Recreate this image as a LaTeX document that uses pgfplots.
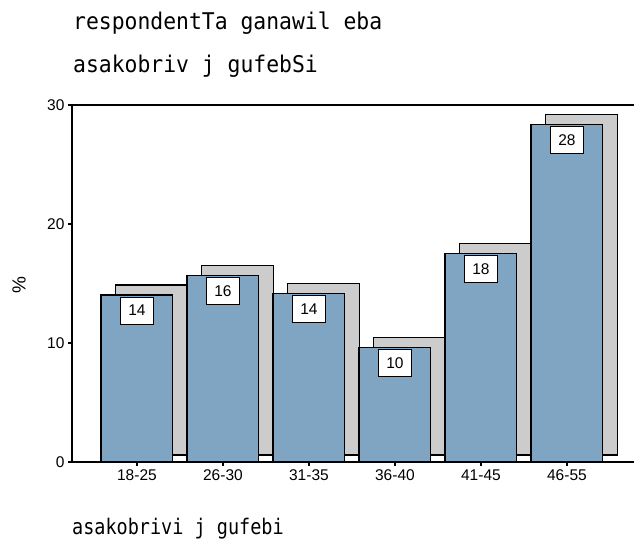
\documentclass[border=0pt]{standalone}
\usepackage{fontspec}
\setmainfont{Liberation Sans}
\newfontfamily\monofont[FakeStretch=0.93]{DejaVu Sans Mono}
\newfontfamily\monofontx[FakeStretch=0.86]{DejaVu Sans Mono}
\usepackage{pgfplots}
\pgfplotsset{compat=1.18}
\definecolor{barblue}{RGB}{127,165,194}
\definecolor{shadowgray}{RGB}{204,204,204}
\begin{document}
\begin{tikzpicture}[x=1pt,y=1pt]
\path[use as bounding box] (0,0) rectangle (634,540);
\pgfplotsset{myaxis/.style={scale only axis, width=562pt, height=357pt,
  at={(72pt,78pt)}, anchor=south west,
  xmin=-0.755, xmax=5.78, ymin=0, ymax=30}}
% shadows
\begin{axis}[myaxis, hide axis, ybar stacked, bar width=0.834]
\addplot[draw=none, fill=none] coordinates {(0.171,0.59) (1.171,0.59) (2.171,0.59) (3.171,0.59) (4.171,0.59) (5.171,0.59)};
\addplot[fill=shadowgray, draw=black, line width=1.2pt] coordinates {(0.171,14.28) (1.171,15.91) (2.171,14.43) (3.171,9.89) (4.171,17.79) (5.171,28.63)};
\end{axis}
% main bars
\begin{axis}[myaxis, ybar, bar width=0.834, bar shift=0pt,
  axis lines*=left, axis line style={line width=1.5pt},
  xtick={0,1,2,3,4,5}, xticklabels={18-25,26-30,31-35,36-40,41-45,46-55},
  ytick={0,10,20,30},
  tick align=outside, major tick length=4pt, tick style={line width=2.5pt,black},
  tick label style={font=\fontsize{15.5}{18}\selectfont},
  /pgf/number format/assume math mode=true,
  point meta=explicit symbolic, nodes near coords,
  every node near coord/.append style={anchor=north, yshift=-1.5pt, fill=white, draw=black,
    line width=1.2pt, minimum width=33pt, minimum height=27pt, inner sep=0pt,
    font=\fontsize{15.5}{18}\selectfont},
  clip=false]
\addplot[fill=barblue, draw=black, line width=1.2pt] coordinates {
(0,14.03) [14] (1,15.66) [16] (2,14.18) [14] (3,9.64) [10] (4,17.54) [18] (5,28.38) [28]};
\draw[line width=1.5pt] (rel axis cs:0,1) -- (rel axis cs:1,1);
\end{axis}
\node[anchor=base west, inner sep=0pt, font=\monofont\fontsize{23}{26}\selectfont] at (73,510.5) {respondentTa ganawil eba};
\node[anchor=base west, inner sep=0pt, font=\monofont\fontsize{23}{26}\selectfont] at (73,467.3) {asakobriv j gufebSi};
\node[anchor=base west, inner sep=0pt, font=\monofontx\fontsize{21.5}{24}\selectfont] at (72,5) {asakobrivi j gufebi};
\node[rotate=90, inner sep=0pt, font=\fontsize{19}{21}\selectfont] at (19,255) {\%};
\end{tikzpicture}
\end{document}
